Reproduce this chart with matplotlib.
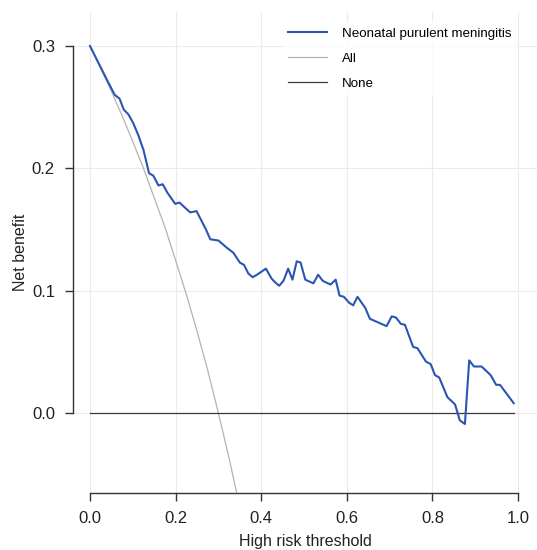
import matplotlib
matplotlib.use("Agg")
import matplotlib.pyplot as plt

plt.rcParams['font.family'] = ['Liberation Sans', 'DejaVu Sans']

# Decision curve: model net benefit
model_thr = [0.000, 0.043, 0.058, 0.069, 0.079, 0.090, 0.101, 0.113, 0.125, 0.138,
             0.148, 0.160, 0.170, 0.181, 0.199, 0.209, 0.234, 0.249, 0.271, 0.281,
             0.300, 0.320, 0.335, 0.350, 0.360, 0.370, 0.380, 0.390, 0.411, 0.424,
             0.432, 0.442, 0.452, 0.463, 0.473, 0.483, 0.492, 0.503, 0.522, 0.533,
             0.544, 0.562, 0.574, 0.583, 0.593, 0.606, 0.615, 0.625, 0.643, 0.654,
             0.693, 0.705, 0.715, 0.726, 0.736, 0.755, 0.765, 0.785, 0.796, 0.806,
             0.816, 0.835, 0.853, 0.864, 0.876, 0.886, 0.897, 0.915, 0.936, 0.949,
             0.958, 0.990]
model_nb = [0.300, 0.270, 0.260, 0.257, 0.248, 0.244, 0.237, 0.227, 0.215, 0.196,
            0.194, 0.186, 0.187, 0.180, 0.171, 0.172, 0.164, 0.165, 0.150, 0.142,
            0.141, 0.135, 0.131, 0.123, 0.121, 0.114, 0.111, 0.113, 0.118, 0.110,
            0.107, 0.104, 0.108, 0.118, 0.109, 0.124, 0.123, 0.109, 0.106, 0.113,
            0.108, 0.105, 0.109, 0.096, 0.095, 0.090, 0.088, 0.095, 0.086, 0.077,
            0.071, 0.079, 0.078, 0.073, 0.072, 0.054, 0.053, 0.042, 0.040, 0.031,
            0.029, 0.013, 0.007, -0.006, -0.009, 0.043, 0.038, 0.038, 0.031, 0.023,
            0.023, 0.008]

# Treat-all curve
all_thr = [0.000, 0.025, 0.050, 0.075, 0.100, 0.125, 0.150, 0.175, 0.200, 0.225,
           0.250, 0.275, 0.300, 0.325, 0.350]
all_nb = [0.300, 0.282, 0.263, 0.243, 0.222, 0.200, 0.176, 0.152, 0.125, 0.097,
          0.067, 0.035, 0.000, -0.037, -0.077]

# Treat-none line
none_thr = [0.0, 0.99]
none_nb = [0.0, 0.0]

x_ticks = [0.0, 0.2, 0.4, 0.6, 0.8, 1.0]
y_ticks = [0.0, 0.1, 0.2, 0.3]

fig = plt.figure(figsize=(5.37, 5.5), dpi=100)
ax = fig.add_axes([73 / 537, 57 / 550, (537 - 73) / 537, (493 - 12) / 550])

ax.plot(model_thr, model_nb, color='#2a56b2', lw=1.5, label='Neonatal purulent meningitis', zorder=4)
ax.plot(all_thr, all_nb, color='#b3b3b3', lw=0.9, label='All', zorder=3)
ax.plot(none_thr, none_nb, color='#3a3a3a', lw=0.9, label='None', zorder=3)

ax.set_xlim(-0.0397, 1.0444)
ax.set_ylim(-0.0654, 0.3278)
ax.set_xticks(x_ticks)
ax.set_yticks(y_ticks)
ax.set_xticklabels([f"{v:.1f}" for v in x_ticks])
ax.set_yticklabels([f"{v:.1f}" for v in y_ticks])

ax.grid(True, color='#ebebeb', lw=0.8)
ax.set_axisbelow(True)

for s in ['top', 'right']:
    ax.spines[s].set_visible(False)
ax.spines['left'].set_bounds(0.0, 0.3)
ax.spines['bottom'].set_bounds(0.0, 1.0)
for s in ['left', 'bottom']:
    ax.spines[s].set_color('#333333')
    ax.spines[s].set_linewidth(1.0)

ax.tick_params(axis='both', direction='out', length=6, width=1.0, color='#333333',
               labelsize=12, labelcolor='#222222', pad=7)

ax.set_xlabel('High risk threshold', fontsize=11.5, color='#222222', labelpad=6)
ax.set_ylabel('Net benefit', fontsize=11.5, color='#222222', labelpad=3)

leg = ax.legend(loc='upper left', bbox_to_anchor=(283 / 537, 1 - 22 / 550),
                bbox_transform=fig.transFigure, fontsize=9.6, frameon=True,
                facecolor='white', edgecolor='none', framealpha=0.85,
                handlelength=2.9, handletextpad=1.1, labelspacing=0.95,
                borderpad=0.4, borderaxespad=0)

fig.savefig('out.png', dpi=100)
